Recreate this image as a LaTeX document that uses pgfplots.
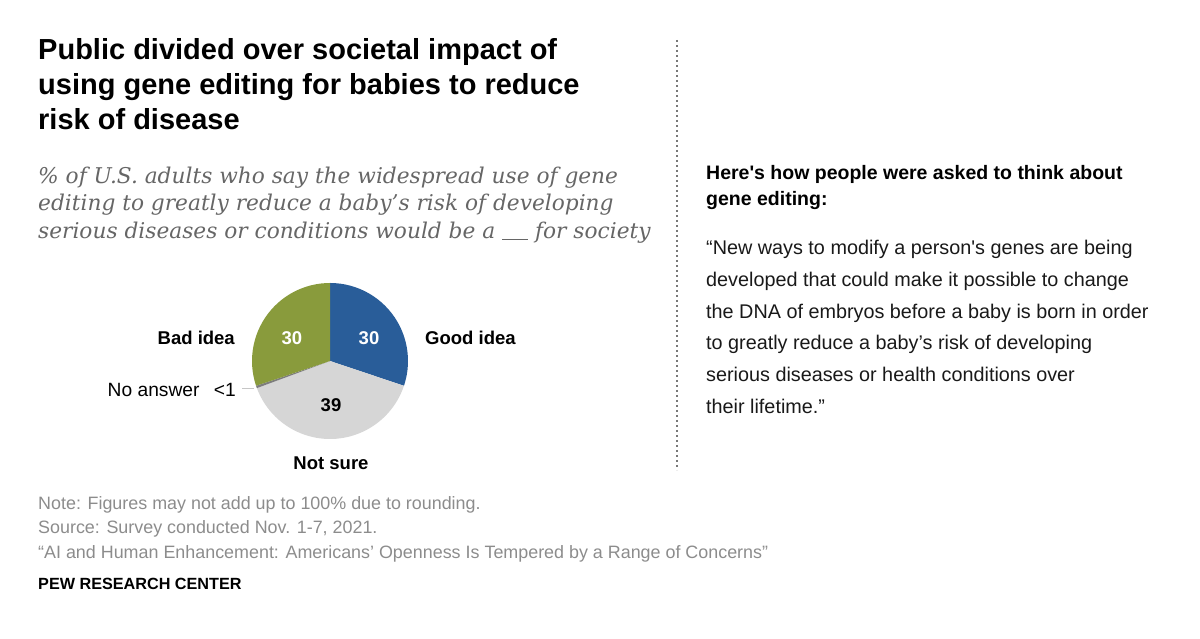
\documentclass[border=0pt]{standalone}
\usepackage{fontspec}
\setmainfont{Liberation Sans}
\newfontfamily\subfont{DejaVu Serif}
\usepackage{pgfplots}
\usepackage{pgfplotstable}
\pgfplotsset{compat=1.18}
\definecolor{goodblue}{RGB}{41,93,153}
\definecolor{badgreen}{RGB}{137,155,60}
\definecolor{nsgray}{RGB}{214,214,214}
\definecolor{nagray}{RGB}{125,125,125}
\definecolor{subgray}{RGB}{102,102,102}
\definecolor{notegray}{RGB}{140,140,140}
\definecolor{dashgray}{RGB}{120,120,120}

\pgfplotstableread{
label value color
Good 30 goodblue
NotSure 39 nsgray
NoAnswer 0.5 nagray
Bad 30 badgreen
}\piedata

\begin{document}
\begin{tikzpicture}
\path[use as bounding box] (0,0) rectangle (1200pt,639pt);

% Title
\begin{scope}[every node/.style={anchor=base west, inner sep=0pt}]
\node[font=\fontsize{29}{35}\selectfont\bfseries] at (38pt,579.5pt) {Public divided over societal impact of};
\node[font=\fontsize{29}{35}\selectfont\bfseries] at (38pt,544.5pt) {using gene editing for babies to reduce};
\node[font=\fontsize{29}{35}\selectfont\bfseries] at (38pt,509.5pt) {risk of disease};

% Subtitle
\node[font=\subfont\itshape\fontsize{21.7}{27}\selectfont, text=subgray] at (38pt,455.5pt) {\% of U.S. adults who say the widespread use of gene};
\node[font=\subfont\itshape\fontsize{21.7}{27}\selectfont, text=subgray] at (38pt,428pt) {editing to greatly reduce a baby’s risk of developing};
\node[font=\subfont\itshape\fontsize{21.7}{27}\selectfont, text=subgray] at (38pt,400.5pt) {serious diseases or conditions would be a \rule[-1.5pt]{26pt}{0.9pt} for society};

% Right panel
\node[font=\fontsize{19.5}{25}\selectfont\bfseries] at (706pt,459pt) {Here\textquotesingle s how people were asked to think about};
\node[font=\fontsize{19.5}{25}\selectfont\bfseries] at (706pt,433.5pt) {gene editing:};
\node[font=\fontsize{19.8}{25}\selectfont, text=black!90] at (706pt,384pt) {“New ways to modify a person\textquotesingle s genes are being};
\node[font=\fontsize{19.8}{25}\selectfont, text=black!90] at (706pt,352.3pt) {developed that could make it possible to change};
\node[font=\fontsize{19.8}{25}\selectfont, text=black!90] at (706pt,320.7pt) {the DNA of embryos before a baby is born in order};
\node[font=\fontsize{19.8}{25}\selectfont, text=black!90] at (706pt,289pt) {to greatly reduce a baby’s risk of developing};
\node[font=\fontsize{19.8}{25}\selectfont, text=black!90] at (706pt,257.3pt) {serious diseases or health conditions over};
\node[font=\fontsize{19.8}{25}\selectfont, text=black!90] at (706pt,225.7pt) {their lifetime.”};

% Notes
\node[font=\fontsize{17.9}{22}\selectfont, text=notegray] at (38pt,129pt) {Note: Figures may not add up to 100\% due to rounding.};
\node[font=\fontsize{17.9}{22}\selectfont, text=notegray] at (38pt,105pt) {Source: Survey conducted Nov. 1-7, 2021.};
\node[font=\fontsize{17.9}{22}\selectfont, text=notegray] at (38pt,80.5pt) {“AI and Human Enhancement: Americans’ Openness Is Tempered by a Range of Concerns”};
\node[font=\fontsize{16.2}{22}\selectfont\bfseries] at (38pt,49pt) {PEW RESEARCH CENTER};
\end{scope}

% Divider
\draw[dashgray, line width=1.1pt, dash pattern=on 2pt off 3pt] (677pt,599pt) -- (677pt,169pt);

% Pie
\begin{axis}[
  at={(330pt,278pt)}, anchor=center,
  x=78pt, y=78pt,
  xmin=-1, xmax=1, ymin=-1, ymax=1,
  hide axis, clip=false,
]
\pgfplotsextra{
  \pgfplotstablegetrowsof{\piedata}
  \pgfmathtruncatemacro{\nr}{\pgfplotsretval-1}
  \def\total{0}
  \pgfplotsforeachungrouped \i in {0,...,\nr}{
    \pgfplotstablegetelem{\i}{value}\of{\piedata}
    \pgfmathsetmacro{\total}{\total+\pgfplotsretval}
  }
  \def\cur{90}
  \pgfplotsforeachungrouped \i in {0,...,\nr}{
    \pgfplotstablegetelem{\i}{value}\of{\piedata}
    \pgfmathsetmacro{\spanang}{360*\pgfplotsretval/\total}
    \pgfmathsetmacro{\nxt}{\cur-\spanang}
    \pgfplotstablegetelem{\i}{color}\of{\piedata}
    \edef\col{\pgfplotsretval}
    \fill[\col] (axis cs:0,0) -- (axis cs:{cos(\cur)},{sin(\cur)}) arc[start angle=\cur, end angle=\nxt, radius=78pt] -- cycle;
    \let\cur\nxt
  }
}
\end{axis}

% Pie labels
\begin{scope}[every node/.style={inner sep=0pt}]
\node[anchor=base east, font=\fontsize{18.5}{22}\selectfont\bfseries] at (235pt,294pt) {Bad idea};
\node[anchor=base west, font=\fontsize{18.5}{22}\selectfont\bfseries] at (425pt,294pt) {Good idea};
\node[anchor=base, font=\fontsize{18.5}{22}\selectfont\bfseries, text=white] at (292pt,294pt) {30};
\node[anchor=base, font=\fontsize{18.5}{22}\selectfont\bfseries, text=white] at (369pt,294pt) {30};
\node[anchor=base, font=\fontsize{18.5}{22}\selectfont\bfseries] at (331pt,227pt) {39};
\node[anchor=base, font=\fontsize{18.5}{22}\selectfont\bfseries] at (331pt,169pt) {Not sure};
\node[anchor=base east, font=\fontsize{19.2}{22}\selectfont] at (236pt,242.5pt) {No answer\hspace{0.75em}<1};
\end{scope}
\draw[gray!45, line width=1pt] (242pt,250.7pt) -- (254pt,250.7pt);
\end{tikzpicture}
\end{document}
